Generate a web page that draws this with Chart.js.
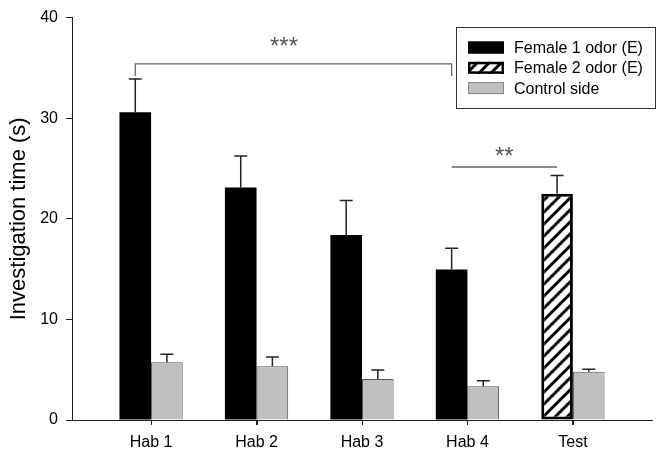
<!DOCTYPE html>
<html>
<head>
<meta charset="utf-8">
<script src="https://cdn.jsdelivr.net/npm/chart.js@4"></script>
<style>
  html, body { margin: 0; padding: 0; background: #fff; }
</style>
</head>
<body>
<canvas id="canvas" width="664" height="456"></canvas>
<script>
var categories = ['Hab 1', 'Hab 2', 'Hab 3', 'Hab 4', 'Test'];
var female1 = [30.6, 23.1, 18.4, 14.95, null];
var female1Err = [3.3, 3.15, 3.42, 2.12, null];
var female2 = [null, null, null, null, 22.5];
var female2Err = [null, null, null, null, 1.8];
var control = [5.74, 5.35, 4.07, 3.35, 4.8];
var controlErr = [0.79, 0.92, 0.89, 0.55, 0.25];
var yTicks = [0, 10, 20, 30, 40];

var FONT = 'Arial, "Liberation Sans", sans-serif';
Chart.defaults.font.family = FONT;
Chart.defaults.color = '#000';

// diagonal hatch for the second odor
function makeHatch() {
    var c = document.createElement('canvas');
    c.width = 12; c.height = 12;
    var g = c.getContext('2d');
    g.fillStyle = '#fff';
    g.fillRect(0, 0, 12, 12);
    g.strokeStyle = '#000';
    g.lineWidth = 3;
    g.beginPath();
    g.moveTo(-2, 14); g.lineTo(14, -2);
    g.moveTo(-8, 8); g.lineTo(8, -8);
    g.moveTo(4, 20); g.lineTo(20, 4);
    g.stroke();
    return g.createPattern(c, 'repeat');
}
var hatch = makeHatch();

function points(arr) {
    var out = [];
    arr.forEach(function(v, i) {
        if (v !== null) out.push({x: i + 1, y: v});
    });
    return out;
}

var errors = [female1Err, female2Err, controlErr];

var errorBars = {
    id: 'errorBars',
    afterDatasetsDraw: function(chart) {
        var ctx = chart.ctx;
        var y = chart.scales.y;
        ctx.save();
        ctx.strokeStyle = '#222';
        ctx.lineWidth = 1.5;
        chart.data.datasets.forEach(function(ds, di) {
            var meta = chart.getDatasetMeta(di);
            meta.data.forEach(function(el, j) {
                var p = meta.controller.getParsed(j);
                var e = errors[di][p.x - 1];
                if (e == null) return;
                var top = y.getPixelForValue(p.y + e);
                ctx.beginPath();
                ctx.moveTo(el.x, el.y);
                ctx.lineTo(el.x, top);
                ctx.moveTo(el.x - 6.5, top);
                ctx.lineTo(el.x + 6.5, top);
                ctx.stroke();
            });
        });
        ctx.restore();
    }
};

var annotations = {
    id: 'annotations',
    afterDraw: function(chart) {
        var ctx = chart.ctx;
        var x = chart.scales.x, y = chart.scales.y;
        var f1 = chart.getDatasetMeta(0).data;
        var f2 = chart.getDatasetMeta(1).data;
        ctx.save();
        ctx.strokeStyle = '#666';
        ctx.lineWidth = 1.3;
        // Hab 1 vs Hab 4
        var ly = y.getPixelForValue(35.4), dy = y.getPixelForValue(34.2);
        ctx.beginPath();
        ctx.moveTo(f1[0].x, dy); ctx.lineTo(f1[0].x, ly);
        ctx.lineTo(f1[3].x, ly); ctx.lineTo(f1[3].x, dy);
        ctx.stroke();
        // Hab 4 vs Test
        var ly2 = y.getPixelForValue(25.15);
        ctx.beginPath();
        ctx.moveTo(f1[3].x, ly2); ctx.lineTo(f2[0].x, ly2);
        ctx.stroke();

        // x tick marks under the axis
        ctx.strokeStyle = '#222';
        ctx.lineWidth = 1;
        x.ticks.forEach(function(t) {
            var px = Math.round(x.getPixelForValue(t.value)) + 0.5;
            ctx.beginPath();
            ctx.moveTo(px, y.bottom);
            ctx.lineTo(px, y.bottom + 5);
            ctx.stroke();
        });

        ctx.fillStyle = '#555';
        ctx.font = '24px ' + FONT;
        ctx.textAlign = 'center';
        ctx.textBaseline = 'alphabetic';
        ctx.fillText('***', x.getPixelForValue(2.26), y.getPixelForValue(36.4));
        ctx.fillText('**', x.getPixelForValue(4.35), y.getPixelForValue(25.4));

        // legend box
        ctx.fillStyle = '#fff';
        ctx.fillRect(456, 27, 199, 81);
        ctx.strokeStyle = '#333';
        ctx.lineWidth = 1;
        ctx.strokeRect(456.5, 27.5, 199, 81);
        var rows = [
            {label: chart.data.datasets[0].label, fill: '#000', stroke: '#000', w: 1},
            {label: chart.data.datasets[1].label, fill: hatch, stroke: '#000', w: 2.5},
            {label: chart.data.datasets[2].label, fill: '#c0c0c0', stroke: '#888', w: 1}
        ];
        ctx.font = '16px ' + FONT;
        ctx.textAlign = 'left';
        ctx.textBaseline = 'middle';
        rows.forEach(function(r, i) {
            var cy = 47.5 + i * 20.3;
            ctx.fillStyle = r.fill;
            ctx.fillRect(468, cy - 6, 36, 12);
            ctx.strokeStyle = r.stroke;
            ctx.lineWidth = r.w;
            ctx.strokeRect(468 + r.w / 2, cy - 6 + r.w / 2, 36 - r.w, 12 - r.w);
            ctx.fillStyle = '#000';
            ctx.fillText(r.label, 514, cy + 1);
        });
        ctx.restore();
    }
};

var ctx = document.getElementById('canvas').getContext('2d');
var myChart = new Chart(ctx, {
    type: 'bar',
    data: {
        datasets: [{
            label: 'Female 1 odor (E)',
            data: points(female1),
            stack: 'odor',
            backgroundColor: '#000',
            borderColor: '#000',
            borderWidth: 0
        }, {
            label: 'Female 2 odor (E)',
            data: points(female2),
            stack: 'odor',
            backgroundColor: hatch,
            borderColor: '#000',
            borderWidth: 3,
            borderSkipped: false
        }, {
            label: 'Control side',
            data: points(control),
            stack: 'ctrl',
            backgroundColor: '#c0c0c0',
            borderColor: '#555',
            borderWidth: 1
        }]
    },
    options: {
        responsive: false,
        animation: false,
        categoryPercentage: 0.6,
        barPercentage: 1.0,
        layout: { padding: { top: 14, right: 12, left: 0, bottom: 0 } },
        plugins: {
            legend: { display: false },
            tooltip: { enabled: false }
        },
        scales: {
            x: {
                type: 'linear',
                offset: false,
                min: 0.25,
                max: 5.75,
                afterBuildTicks: function(s) {
                    s.ticks = categories.map(function(c, i) { return {value: i + 1}; });
                },
                afterFit: function(s) { s.height = 36; },
                ticks: {
                    autoSkip: false,
                    maxRotation: 0,
                    padding: 8,
                    font: { size: 16 },
                    callback: function(v) { return categories[v - 1]; }
                },
                grid: { offset: false, drawOnChartArea: false, drawTicks: true, tickLength: 5, color: '#222' },
                border: { display: true, color: '#222', width: 1 }
            },
            y: {
                stacked: false,
                min: 0,
                max: 40,
                afterBuildTicks: function(s) {
                    s.ticks = yTicks.map(function(v) { return {value: v}; });
                },
                afterFit: function(s) { s.width = 72; },
                ticks: { padding: 8, font: { size: 16 } },
                grid: { drawOnChartArea: false, drawTicks: true, tickLength: 6, color: '#222' },
                border: { display: true, color: '#222', width: 1 },
                title: {
                    display: true,
                    text: 'Investigation time (s)',
                    font: { size: 22 },
                    padding: { top: 6, bottom: 0 }
                }
            }
        }
    },
    plugins: [errorBars, annotations]
});
</script>
</body>
</html>
